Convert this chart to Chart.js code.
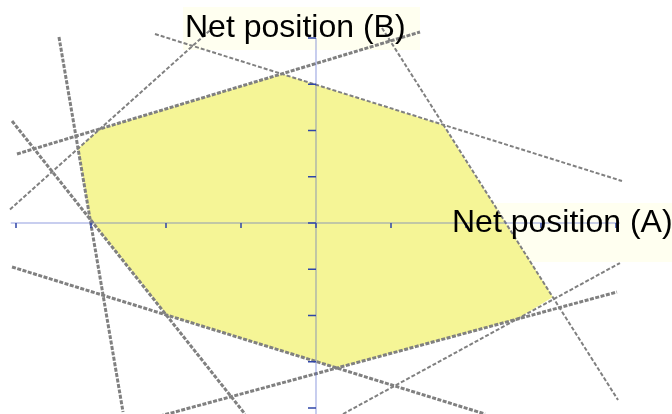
<!DOCTYPE html>
<html>
<head>
<meta charset="utf-8">
<script src="https://cdn.jsdelivr.net/npm/chart.js@4"></script>
<style>
  html, body { margin: 0; padding: 0; background: #ffffff; }
  #wrap { width: 672px; height: 414px; }
</style>
</head>
<body>
<div id="wrap"><canvas id="chart" width="672" height="414"></canvas></div>
<script>
// Achsen
const axisTicks = [-4, -3, -2, -1, 0, 1, 2, 3, 4];
const axisTitleA = 'Net position (A)';
const axisTitleB = 'Net position (B)';

// Zulässiger Bereich (Eckpunkte)
const regionX = [-3.173, -2.880, -0.453, 1.693, 3.160, 2.680, 0.280, -1.987, -3.013, -3.173];
const regionY = [1.611, 2.032, 3.222, 2.119, -1.600, -2.076, -3.135, -1.989, 0.086, 1.611];

// Begrenzungslinien (Start- und Endpunkt)
const lineNames = ['L1', 'L2', 'L3', 'L4', 'L5', 'L6', 'L7', 'L8', 'L9'];
const lineX1 = [-3.427, -4.053, -4.053, -2.080, 0.360, 0.880, -2.147, -3.987, -4.080];
const lineY1 = [4.022, 2.205, -0.951, -4.173, -4.130, 4.216, 4.086, 1.492, 0.292];
const lineX2 = [-2.573, -0.947, 2.253, 4.013, 4.053, 4.027, 4.080, 1.387, -1.413];
const lineY2 = [-4.086, -4.130, -4.130, -1.492, -0.865, -3.827, 0.908, 4.130, 4.166];
const heavyLines = ['L1', 'L2', 'L3', 'L4', 'L8'];

const lineDatasets = lineNames.map((name, i) => {
    const heavy = heavyLines.includes(name);
    return {
        label: name,
        data: [{ x: lineX1[i], y: lineY1[i] }, { x: lineX2[i], y: lineY2[i] }],
        showLine: true,
        borderColor: '#808080',
        borderWidth: heavy ? 3 : 2,
        borderDash: heavy ? [4, 1.5] : [4, 2],
        pointRadius: 0,
        fill: false,
        order: 1
    };
});

const regionDataset = {
    label: 'region',
    data: regionX.map((x, i) => ({ x: x, y: regionY[i] })),
    showLine: true,
    borderWidth: 0,
    borderColor: 'rgba(0,0,0,0)',
    backgroundColor: 'rgb(245,245,150)',
    pointRadius: 0,
    fill: 'shape',
    order: 5
};

// Beschriftungs-Hintergründe unter dem Bereich
const labelBoxes = {
    id: 'labelBoxes',
    beforeDatasetsDraw(chart) {
        const ctx = chart.ctx;
        ctx.save();
        ctx.fillStyle = '#fffff0';
        ctx.fillRect(183, 7, 237, 43);
        ctx.fillRect(446, 203, 226, 59);
        ctx.restore();
    }
};

// Achsen mit Teilstrichen und Titel
const crossAxes = {
    id: 'crossAxes',
    afterDatasetsDraw(chart) {
        const ctx = chart.ctx;
        const xs = chart.scales.x, ys = chart.scales.y;
        const x0 = xs.getPixelForValue(0), y0 = ys.getPixelForValue(0);
        ctx.save();
        ctx.strokeStyle = 'rgba(70,90,200,0.4)';
        ctx.lineWidth = 1.5;
        ctx.beginPath();
        ctx.moveTo(xs.getPixelForValue(-4.07), y0);
        ctx.lineTo(xs.getPixelForValue(4.05), y0);
        ctx.moveTo(x0, ys.getPixelForValue(4));
        ctx.lineTo(x0, ys.getPixelForValue(-4.3));
        ctx.stroke();

        ctx.strokeStyle = '#2f45a8';
        ctx.lineWidth = 1.5;
        ctx.beginPath();
        axisTicks.forEach(t => {
            const px = xs.getPixelForValue(t);
            ctx.moveTo(px, y0);
            ctx.lineTo(px, y0 + 5);
            const py = ys.getPixelForValue(t);
            ctx.moveTo(x0 - 8, py);
            ctx.lineTo(x0, py);
        });
        ctx.stroke();

        ctx.fillStyle = '#000000';
        ctx.font = '32px "Liberation Sans", Arial, sans-serif';
        ctx.textBaseline = 'alphabetic';
        ctx.textAlign = 'left';
        ctx.fillText(axisTitleB, 185, 37);
        ctx.fillText(axisTitleA, 452, 232);
        ctx.restore();
    }
};

new Chart(document.getElementById('chart'), {
    type: 'scatter',
    data: { datasets: [...lineDatasets, regionDataset] },
    options: {
        responsive: false,
        animation: false,
        layout: { padding: 0 },
        plugins: {
            legend: { display: false },
            tooltip: { enabled: false }
        },
        scales: {
            x: { type: 'linear', display: false, min: -4.2133, max: 4.7467 },
            y: { type: 'linear', display: false, min: -4.1297, max: 4.8216 }
        }
    },
    plugins: [labelBoxes, crossAxes]
});
</script>
</body>
</html>
